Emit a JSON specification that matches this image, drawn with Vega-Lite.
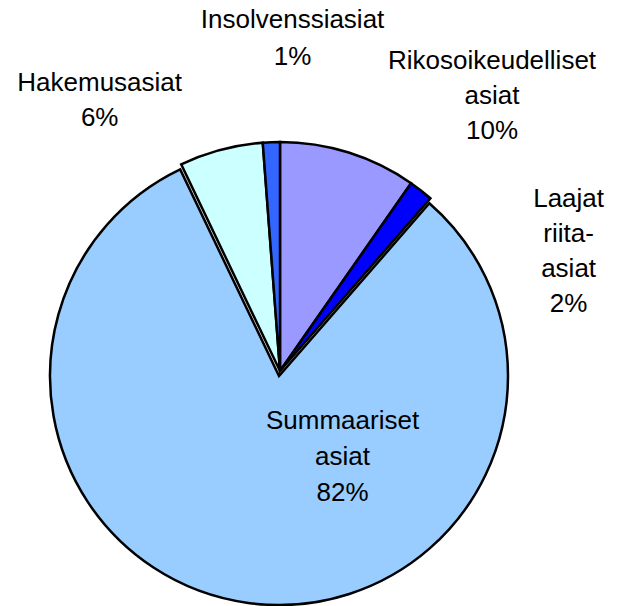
{
  "$schema": "https://vega.github.io/schema/vega-lite/v6.json",
  "width": 560,
  "height": 470,
  "autosize": {"type": "none"},
  "padding": {"left": 0, "top": 136, "right": 64, "bottom": 0},
  "background": "white",
  "config": {"view": {"stroke": null}},
  "data": {
    "values": [
      {"cat": "Rikosoikeudelliset asiat", "value": 9.7, "ord": 1, "label": "Rikosoikeudelliset\nasiat\n10%"},
      {"cat": "Laajat riita-asiat", "value": 1.7, "ord": 2, "label": "Laajat\nriita-\nasiat\n2%"},
      {"cat": "Summaariset asiat", "value": 81.5, "ord": 3, "label": "Summaariset\nasiat\n82%"},
      {"cat": "Hakemusasiat", "value": 5.9, "ord": 4, "label": "Hakemusasiat\n6%"},
      {"cat": "Insolvenssiasiat", "value": 1.2, "ord": 5, "label": "Insolvenssiasiat\n1%"}
    ]
  },
  "encoding": {
    "theta": {"field": "value", "type": "quantitative", "stack": true},
    "order": {"field": "ord", "type": "quantitative"}
  },
  "layer": [
    {
      "mark": {"type": "arc", "outerRadius": 229, "stroke": "black", "strokeWidth": 2.5},
      "encoding": {
        "color": {
          "field": "cat", "type": "nominal", "legend": null,
          "scale": {
            "domain": ["Rikosoikeudelliset asiat", "Laajat riita-asiat", "Summaariset asiat", "Hakemusasiat", "Insolvenssiasiat"],
            "range": ["#9999FF", "#0000FF", "#99CCFF", "#CCFFFF", "#3366FF"]
          }
        },
        "opacity": {"condition": {"test": "datum.cat === 'Summaariset asiat'", "value": 0}, "value": 1}
      }
    },
    {
      "mark": {"type": "arc", "outerRadius": 229, "stroke": "black", "strokeWidth": 2.5, "yOffset": 5, "xOffset": -1},
      "encoding": {
        "color": {"field": "cat", "type": "nominal", "legend": null},
        "opacity": {"condition": {"test": "datum.cat === 'Summaariset asiat'", "value": 1}, "value": 0}
      }
    },
    {
      "mark": {"type": "text", "radius": 300, "dx": 122, "dy": -24, "font": "Liberation Sans", "fontSize": 26, "lineHeight": 35, "lineBreak": "\n", "align": "center", "baseline": "middle", "color": "black"},
      "encoding": {"text": {"condition": {"test": "datum.cat === 'Rikosoikeudelliset asiat'", "field": "label"}, "value": ""}}
    },
    {
      "mark": {"type": "text", "radius": 300, "dx": 104, "dy": 64, "font": "Liberation Sans", "fontSize": 26, "lineHeight": 35, "lineBreak": "\n", "align": "center", "baseline": "middle", "color": "black"},
      "encoding": {"text": {"condition": {"test": "datum.cat === 'Laajat riita-asiat'", "field": "label"}, "value": ""}}
    },
    {
      "mark": {"type": "text", "radius": 100, "dx": 76, "dy": -49, "font": "Liberation Sans", "fontSize": 26, "lineHeight": 36, "lineBreak": "\n", "align": "center", "baseline": "middle", "color": "black"},
      "encoding": {"text": {"condition": {"test": "datum.cat === 'Summaariset asiat'", "field": "label"}, "value": ""}}
    },
    {
      "mark": {"type": "text", "radius": 300, "dx": -103, "dy": 2, "font": "Liberation Sans", "fontSize": 26, "lineHeight": 35, "lineBreak": "\n", "align": "center", "baseline": "middle", "color": "black"},
      "encoding": {"text": {"condition": {"test": "datum.cat === 'Hakemusasiat'", "field": "label"}, "value": ""}}
    },
    {
      "mark": {"type": "text", "radius": 330, "dx": 25, "dy": -21, "font": "Liberation Sans", "fontSize": 26, "lineHeight": 37, "lineBreak": "\n", "align": "center", "baseline": "middle", "color": "black"},
      "encoding": {"text": {"condition": {"test": "datum.cat === 'Insolvenssiasiat'", "field": "label"}, "value": ""}}
    }
  ]
}
